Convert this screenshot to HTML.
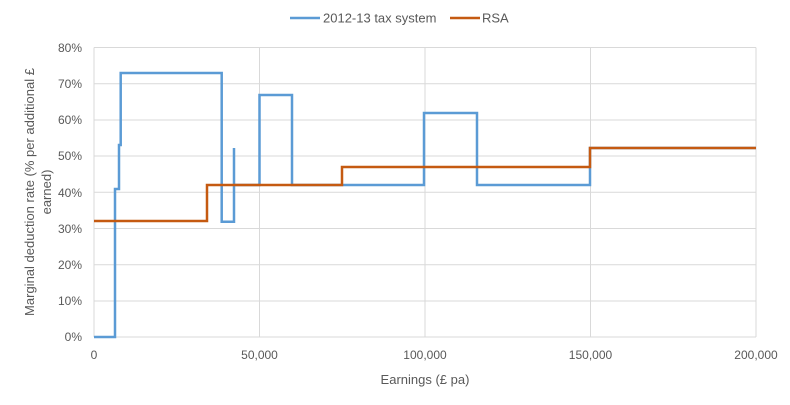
<!DOCTYPE html>
<html><head><meta charset="utf-8"><style>body{margin:0;background:#fff}</style></head><body>
<svg width="790" height="400" xmlns="http://www.w3.org/2000/svg" font-family="Liberation Sans, sans-serif" font-size="12" fill="#595959">
<g stroke="#d9d9d9" stroke-width="1">
<line x1="94" y1="47.5" x2="756" y2="47.5"/><line x1="94" y1="83.7" x2="756" y2="83.7"/><line x1="94" y1="120" x2="756" y2="120"/><line x1="94" y1="156" x2="756" y2="156"/><line x1="94" y1="192.3" x2="756" y2="192.3"/><line x1="94" y1="228.5" x2="756" y2="228.5"/><line x1="94" y1="264.7" x2="756" y2="264.7"/><line x1="94" y1="301" x2="756" y2="301"/><line x1="94" y1="337" x2="756" y2="337"/>
<line x1="94" y1="47.5" x2="94" y2="337"/><line x1="259.5" y1="47.5" x2="259.5" y2="337"/><line x1="425" y1="47.5" x2="425" y2="337"/><line x1="590.5" y1="47.5" x2="590.5" y2="337"/><line x1="756" y1="47.5" x2="756" y2="337"/>
</g>
<g text-anchor="end">
<text x="82" y="52">80%</text><text x="82" y="88">70%</text><text x="82" y="124">60%</text><text x="82" y="160">50%</text><text x="82" y="197">40%</text><text x="82" y="233">30%</text><text x="82" y="269">20%</text><text x="82" y="305">10%</text><text x="82" y="341">0%</text>
</g>
<g text-anchor="middle">
<text x="94" y="359">0</text><text x="259.5" y="359">50,000</text><text x="425" y="359">100,000</text><text x="590.5" y="359">150,000</text><text x="756" y="359">200,000</text>
<text x="425" y="384" font-size="13">Earnings (£ pa)</text>
<text transform="translate(34,192) rotate(-90)" font-size="13">Marginal deduction rate (% per additional £</text>
<text transform="translate(51,192) rotate(-90)" font-size="13">earned)</text>
</g>
<polyline fill="none" stroke="#5b9bd5" stroke-width="2.5" points="94,337 115,337 115,189 119,189 119,145 120.7,145 120.7,73 221.7,73 221.7,221.7 234,221.7 234,148 234,185 259.5,185 259.5,95 292,95 292,185 424,185 424,113 477,113 477,185 590,185 590,148 756,148"/>
<polyline fill="none" stroke="#c55a11" stroke-width="2.5" points="94,221 207,221 207,185 342,185 342,167 590,167 590,148 756,148"/>
<line x1="290" y1="18" x2="320" y2="18" stroke="#5b9bd5" stroke-width="2.5"/>
<text x="323" y="22.5" font-size="13">2012-13 tax system</text>
<line x1="450" y1="18" x2="480" y2="18" stroke="#c55a11" stroke-width="2.5"/>
<text x="482" y="22.5" font-size="13">RSA</text>
</svg>
</body></html>
